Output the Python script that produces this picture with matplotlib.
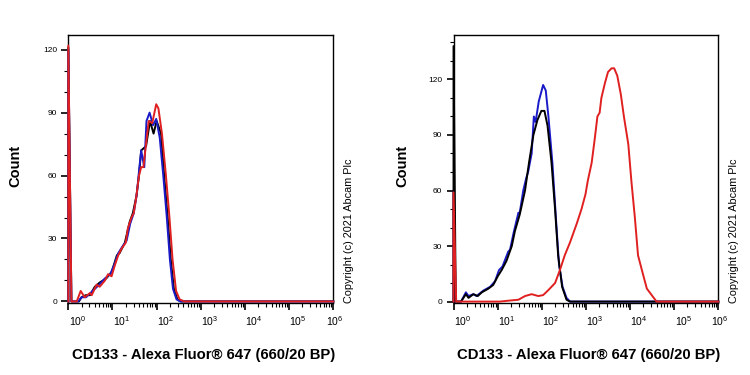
import numpy as np
import matplotlib.pyplot as plt
from matplotlib.ticker import LogLocator, NullFormatter
from matplotlib.transforms import ScaledTranslation

plt.rcParams['font.family'] = ['Liberation Sans', 'DejaVu Sans']
plt.rcParams['mathtext.fontset'] = 'custom'
plt.rcParams['mathtext.rm'] = 'Liberation Sans'
plt.rcParams['mathtext.it'] = 'Liberation Sans'

# x positions are in decades (log10 of fluorescence), counts on y
# ---- left panel ----
l_red_x = [0.0, 0.0, 0.07, 0.19, 0.28, 0.37, 0.49, 0.53, 0.64, 0.71, 0.83, 0.9, 0.98, 1.05, 1.13,
           1.2, 1.3, 1.35, 1.43, 1.48, 1.54, 1.6, 1.65, 1.7, 1.76, 1.82, 1.9, 1.95, 1.99, 2.04,
           2.12, 2.21, 2.29, 2.36, 2.44, 2.52, 2.63, 6.0]
l_red_y = [0, 122, 0, 0, 5, 2, 4, 3, 8, 7, 10, 13, 12, 17, 22,
           25, 28, 35, 40, 42, 50, 60, 64, 64, 75, 86, 85, 90, 94, 92,
           80, 60, 40, 20, 5, 1, 0, 0]

l_blue_x = [0.0, 0.0, 0.07, 0.22, 0.3, 0.4, 0.5, 0.6, 0.7, 0.83, 0.95, 1.05, 1.13, 1.22,
            1.32, 1.4, 1.48, 1.55, 1.6, 1.65, 1.72, 1.77, 1.84, 1.92, 1.99, 2.07, 2.15,
            2.23, 2.3, 2.37, 2.45, 2.53, 2.63, 6.0]
l_blue_y = [0, 120, 0, 0, 2, 2, 4, 6, 8, 11, 13, 18, 23, 26,
            29, 37, 42, 51, 62, 72, 64, 86, 90, 84, 87, 78, 60,
            40, 20, 6, 1, 0, 0, 0]

l_black_x = [0.0, 0.0, 0.07, 0.24, 0.3, 0.4, 0.49, 0.6, 0.71, 0.86, 0.98, 1.1, 1.16, 1.28,
             1.39, 1.46, 1.54, 1.6, 1.65, 1.76, 1.85, 1.93, 2.0, 2.1, 2.17, 2.25, 2.32,
             2.39, 2.47, 2.55, 2.65, 6.0]
l_black_y = [0, 121, 0, 0, 2, 3, 3, 7, 9, 11, 14, 22, 23, 28,
             38, 42, 50, 60, 72, 74, 86, 80, 86, 80, 60, 40, 20,
             6, 1, 0, 0, 0]

# ---- right panel ----
r_red_x = [0.0, 0.0, 0.06, 1.05, 1.25, 1.47, 1.62, 1.77, 1.92, 2.03, 2.14, 2.3, 2.41, 2.52,
           2.64, 2.79, 2.9, 2.99, 3.04, 3.13, 3.2, 3.26, 3.31, 3.35, 3.43, 3.5, 3.58, 3.64,
           3.71, 3.79, 3.86, 3.96, 4.03, 4.11, 4.18, 4.29, 4.38, 4.6, 6.0]
r_red_y = [0, 59, 0, 0, 0.5, 1, 3, 4, 3, 3.5, 6, 10, 17, 25,
           32, 42, 50, 58, 65, 75, 88, 100, 102, 110, 118, 124, 126, 126,
           122, 112, 100, 85, 65, 45, 25, 15, 7, 0, 0]

r_blue_x = [0.0, 0.0, 0.05, 0.17, 0.28, 0.34, 0.45, 0.52, 0.68, 0.83, 0.94, 1.03, 1.11, 1.24,
            1.28, 1.36, 1.47, 1.5, 1.58, 1.65, 1.69, 1.77, 1.82, 1.86, 1.93, 2.03, 2.09,
            2.15, 2.24, 2.32, 2.39, 2.47, 2.56, 2.64, 6.0]
r_blue_y = [0, 60, 0, 0, 5, 3, 4, 3, 6, 8, 11, 17, 19, 27,
            28, 37, 48, 48, 60, 67, 70, 80, 100, 97, 108, 117, 114,
            100, 75, 45, 20, 8, 2, 0, 0]

r_black_x = [0.0, 0.0, 0.05, 0.17, 0.28, 0.34, 0.45, 0.55, 0.64, 0.79, 0.9, 1.01, 1.09, 1.2,
             1.32, 1.39, 1.5, 1.62, 1.71, 1.81, 1.9, 1.99, 2.06, 2.13, 2.22, 2.3, 2.37,
             2.46, 2.56, 2.64, 6.0]
r_black_y = [0, 138, 0, 0, 4, 2, 4, 3, 5, 7, 9, 14, 17, 22,
             30, 38, 47, 60, 75, 90, 98, 103, 103, 95, 75, 50, 25,
             8, 1, 0, 0]

decades = [0, 1, 2, 3, 4, 5, 6]
y_ticks = [0, 30, 60, 90, 120]
xlabel = 'CD133 - Alexa Fluor® 647 (660/20 BP)'
copyright_txt = 'Copyright (c) 2021 Abcam Plc'

fig = plt.figure(figsize=(7.5, 3.75), dpi=100)
ax1 = fig.add_axes([0.0911, 0.1928, 0.3533, 0.7139])
ax2 = fig.add_axes([0.6047, 0.1928, 0.3531, 0.7139])

red, blue = '#e02020', '#1a1ac8'
panels = [
    (ax1, [(l_black_x, l_black_y, 'black'), (l_blue_x, l_blue_y, blue), (l_red_x, l_red_y, red)], 127),
    (ax2, [(r_blue_x, r_blue_y, blue), (r_black_x, r_black_y, 'black'), (r_red_x, r_red_y, red)], 144),
]

for ax, series, ytop in panels:
    for xs, ys, col in series:
        ax.plot(10 ** np.array(xs), ys, color=col, lw=1.4, clip_on=False, zorder=3)
    ax.set_xscale('log')
    ax.set_xlim(1, 1e6)
    ax.set_ylim(-0.6, ytop)

    ax.set_xticks([10.0 ** d for d in decades])
    ax.set_xticklabels(['$10^{%d}$' % d for d in decades], fontsize=7.5)
    ax.xaxis.set_minor_locator(LogLocator(base=10, subs=np.arange(2, 10)))
    ax.xaxis.set_minor_formatter(NullFormatter())
    ax.set_yticks(y_ticks)
    ax.set_yticklabels([str(v) for v in y_ticks], fontsize=6)
    ax.set_yticks(np.arange(10, ytop, 10), minor=True)

    ax.tick_params(axis='both', which='major', direction='out', length=5, width=1.2, pad=3)
    ax.tick_params(axis='both', which='minor', direction='out', length=3, width=0.8)
    for i, lab in enumerate(ax.get_xticklabels()):
        dx = 9 if i < 6 else 1
        lab.set_transform(lab.get_transform() + ScaledTranslation(dx / 100, 0, fig.dpi_scale_trans))

    for sp in ax.spines.values():
        sp.set_linewidth(1.0)

    ax.set_xlabel(xlabel, fontsize=10.7, fontweight='bold')
    ax.xaxis.set_label_coords(0.51, -0.17)
    ax.set_ylabel('Count', fontsize=10.5, fontweight='bold')
    ax.text(1.058, 0.0, copyright_txt, transform=ax.transAxes, rotation=90,
            ha='center', va='bottom', fontsize=7.8)

ax1.yaxis.set_label_coords(-0.175, 0.51)
ax2.yaxis.set_label_coords(-0.165, 0.51)

plt.savefig('out.png', dpi=100)
